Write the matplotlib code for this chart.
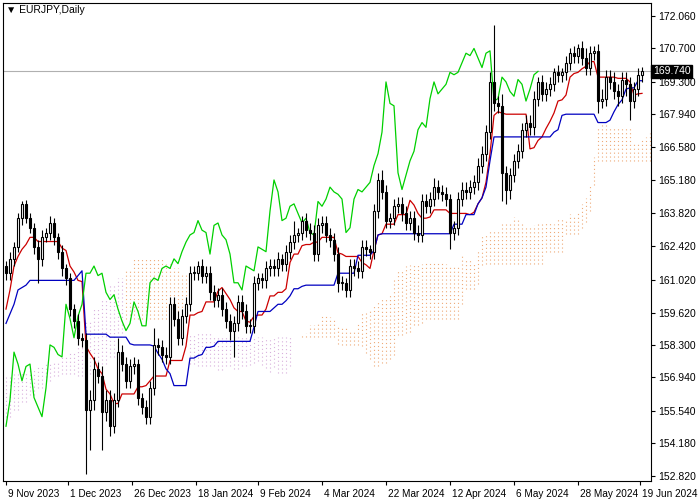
import numpy as np
import pandas as pd
import matplotlib
matplotlib.use("Agg")
import matplotlib.pyplot as plt
import matplotlib.transforms as mtrans

close = [161.3,161.9,162.4,163.6,164.2,163.6,163.2,162.4,161.9,162.8,
163.0,163.4,162.8,162.2,161.5,161.1,159.8,159.3,158.6,158.5,
155.6,156.0,157.3,157.0,155.5,156.0,154.9,156.0,158.0,157.5,
156.8,157.4,157.5,156.1,155.7,155.3,156.5,158.3,158.2,157.9,
157.8,160.0,159.4,158.6,159.5,160.0,161.3,161.3,161.6,161.2,
161.3,160.5,160.2,160.4,159.8,159.3,158.9,159.2,160.1,159.7,
159.1,159.1,160.9,161.1,161.0,161.5,161.6,161.5,161.9,161.7,
162.2,162.6,162.9,163.0,163.5,163.1,163.0,162.1,163.3,163.4,
162.9,162.7,162.1,160.9,160.9,160.6,161.6,161.5,161.4,162.4,
162.3,162.2,163.9,165.2,164.7,163.5,163.6,164.1,164.2,163.8,
163.4,163.6,163.0,162.9,164.3,164.1,164.4,164.9,164.7,164.6,
164.4,163.0,163.2,164.4,164.8,164.7,164.9,165.1,165.8,166.3,
167.2,169.3,168.4,168.3,165.5,164.8,165.4,166.0,166.4,167.3,
167.6,167.4,168.6,169.3,168.8,169.0,169.2,169.7,169.6,169.7,
170.1,170.5,170.4,170.7,170.3,169.9,170.5,170.6,168.5,168.6,
169.5,169.3,168.9,168.7,169.4,169.2,168.5,169.0,169.6,169.74]
first_open = 161.6

upper_wick = [.2,.3,.2,.2,.1,.15,.2,.2,.3,.3,
.2,.3,.2,.2,.3,.2,.2,.2,.3,.2,
.3,.4,.5,.3,.4,.4,.4,.3,.6,.3,
.3,.3,.3,.2,.2,.3,.3,.7,.3,.3,
.3,.3,.3,.3,.3,.3,.3,.3,.2,.3,
.3,.3,.3,.3,.3,.3,.3,.3,.3,.3,
.3,.3,.3,.2,.2,.3,.3,.3,.3,.2,
.3,.3,.6,.2,.2,.3,.3,.3,.3,.3,
.3,.3,.3,.3,.3,.2,.3,.3,.3,.3,
.3,.2,.3,.3,.4,.3,.2,.3,.3,.3,
.3,.3,.3,.3,.3,.3,.3,.4,.3,.3,
.3,.2,.3,.3,.3,.3,.3,.3,.3,.3,
.3,.4,2.4,.3,.5,.3,.3,.3,.3,.3,
.3,.3,.3,.2,.3,.3,.3,.2,.3,.2,
.3,.2,.3,.2,.3,.4,.3,.2,.3,.4,
.3,.3,.4,.3,.3,.3,.3,.3,.3,.2]
lower_wick = [.3,.3,.3,.2,.3,.2,.2,.3,1.0,.3,
.2,.3,.3,.3,.3,.3,.3,.3,.3,.3,
2.7,1.7,.4,.3,1.6,.4,.4,.3,.3,.3,
.3,.3,.3,.3,.3,.3,.3,.3,.3,.3,
.3,.3,.3,.3,.3,.3,.3,.3,.3,.3,
.3,.3,.3,.3,.3,.3,.4,1.1,.3,.3,
.3,.3,.3,.3,.3,.3,.3,.3,.3,.3,
.3,.3,.3,.3,.3,.3,.3,.3,.3,.3,
.3,.3,.3,.4,.3,.3,.3,.3,.3,.3,
.3,.3,.3,.3,.3,.3,.3,.3,.3,.3,
.3,.3,.3,.3,.3,.3,.3,.3,.3,.3,
.3,.7,.3,.3,.3,.3,.3,.3,.3,.3,
.3,.3,.3,.3,1.2,.6,.4,.3,.3,.3,
.3,.3,.3,.3,.3,.3,.3,.3,.3,.3,
.3,.3,.3,.3,.3,.3,.3,.3,.5,.3,
.3,.3,.3,.4,.3,.5,.8,.3,.3,.3]

# indicator values before enough history is visible
tenkan_early = [159.8,160.6,161.6,162.0,162.3,162.5,162.8,162.8]
kijun_early = [159.2,159.6,160.0,160.6,160.7,160.8] + [161.0]*11 + [161.0,161.2,161.4] + [158.75]*6
spanA_early = [155.3,155.6,155.9,156.2,156.5,156.8,157.0,157.1,157.1,157.0,157.1,157.3,157.5,157.8,158.8,
               161.4,161.9,161.9,161.9,161.9,161.7,161.5,161.3,157.5,157.4,157.4]
spanB_early = [157.0,157.1,157.2,157.3,157.4,157.5,157.6,157.8,158.0,158.5,159.3,159.8,160.2,160.8,161.1,
               159.4,159.4,159.4,159.4,159.4,159.4,159.4,159.4,158.8,158.8,158.8]

date_labels = ["9 Nov 2023","1 Dec 2023","26 Dec 2023","18 Jan 2024","9 Feb 2024","4 Mar 2024",
               "22 Mar 2024","12 Apr 2024","6 May 2024","28 May 2024","19 Jun 2024"]
date_idx = [0,15.5,31.5,47.5,63,79,95,111,127,143,158.5]
price_ticks = [172.060,170.700,169.300,167.940,166.580,165.180,163.820,162.420,161.020,
               159.620,158.300,156.940,155.540,154.180,152.820]
last_price = 169.740

plt.rcParams['font.family'] = ['Liberation Sans', 'DejaVu Sans']

C = np.array(close)
N = len(C)
O = np.concatenate([[first_open], C[:-1]])
H = np.maximum(O, C) + np.array(upper_wick)
L = np.minimum(O, C) - np.array(lower_wick)
x = np.arange(N)

hs, ls = pd.Series(H), pd.Series(L)
tenkan = ((hs.rolling(9, min_periods=1).max() + ls.rolling(9, min_periods=1).min()) / 2).values
kijun = ((hs.rolling(26, min_periods=1).max() + ls.rolling(26, min_periods=1).min()) / 2).values
tenkan[:len(tenkan_early)] = tenkan_early
kijun[:len(kijun_early)] = kijun_early
b52 = ((hs.rolling(52, min_periods=1).max() + ls.rolling(52, min_periods=1).min()) / 2).values

M = N + 26
spanA = np.full(M, np.nan); spanB = np.full(M, np.nan)
spanA[26:] = (tenkan + kijun) / 2
spanB[26:] = b52
ea = np.repeat(spanA_early, 2); eb = np.repeat(spanB_early, 2)
spanA[:52] = ea[:52]; spanB[:52] = eb[:52]
xs = np.arange(M)

fig = plt.figure(figsize=(7, 5), dpi=100)
ax = fig.add_axes([3/700, 19/500, 648/700, 478/500])
ax.set_xlim(-0.75, 161.25)
ax.set_ylim(152.61, 172.60)

# cloud drawn MT4-style as vertical dotted lines per bar
lo = np.minimum(spanA, spanB); hi = np.maximum(spanA, spanB)
up = spanA >= spanB
ax.vlines(xs[up], lo[up], hi[up], colors='#eeaa78', lw=0.8, linestyles=(0, (1, 2.5)), zorder=1)
ax.vlines(xs[~up], lo[~up], hi[~up], colors='#d8b0dc', lw=0.8, linestyles=(0, (1, 2.5)), zorder=1)

ax.plot(x, tenkan, color='#cc0000', lw=0.9, zorder=2)
ax.plot(x, kijun, color='#0000c0', lw=0.9, zorder=2)
ax.plot(x[:-26], C[26:], color='#00d000', lw=0.9, zorder=2)

ax.axhline(last_price, color='#b0b0b0', lw=0.8, zorder=1.5)

# candles
ax.vlines(x, L, H, color='black', lw=0.8, zorder=3)
bull = C >= O
hgt = np.where(np.abs(C - O) < 0.04, 0.04, np.abs(C - O))
ax.bar(x[bull], hgt[bull], bottom=np.minimum(O, C)[bull], width=0.65, color='white',
       edgecolor='black', lw=0.8, zorder=4)
ax.bar(x[~bull], hgt[~bull], bottom=np.minimum(O, C)[~bull], width=0.65, color='black',
       edgecolor='black', lw=0.8, zorder=4)

ax.yaxis.tick_right()
ax.set_yticks(price_ticks)
ax.set_yticklabels([f"{p:.3f}" for p in price_ticks])
ax.set_xticks(date_idx)
ax.set_xticklabels(date_labels, ha='left')
ax.tick_params(axis='both', labelsize=7.5, length=3, width=0.8, colors='black', pad=2)
ax.tick_params(axis='x', pad=3, labelsize=7.2)
for lab in ax.get_xticklabels():
    lab.set_transform(lab.get_transform() + mtrans.ScaledTranslation(2/100, 0, fig.dpi_scale_trans))
for s in ax.spines.values():
    s.set_linewidth(0.8)

ax.text(1.003, last_price, f"{last_price:.3f}", transform=ax.get_yaxis_transform(),
        va='center', ha='left', fontsize=7.5, color='white', zorder=10,
        bbox=dict(boxstyle='square,pad=0.15', fc='black', ec='black'))
ax.text(0.004, 0.995, "\u25BC EURJPY,Daily", transform=ax.transAxes, va='top', ha='left', fontsize=7.5)

fig.savefig("out.png", dpi=100)
